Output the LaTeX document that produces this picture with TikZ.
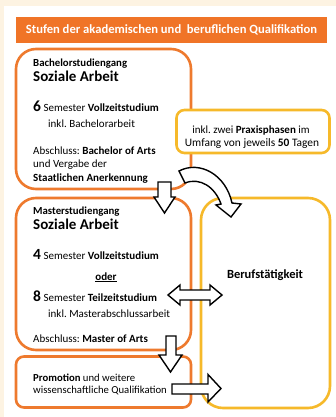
\documentclass[tikz,border=0pt]{standalone}
\usepackage{fontspec}
\setmainfont{Carlito}
\usepackage{xcolor}
\definecolor{cream}{HTML}{FDF3E2}
\definecolor{orng}{HTML}{EE7A2E}
\definecolor{hdr}{HTML}{F07427}
\definecolor{ylw}{HTML}{F6B92A}
\frenchspacing
\begin{document}
\begin{tikzpicture}[x=1pt,y=-1pt,
  obox/.style={draw=orng,line width=2.6pt,fill=white},
  ybox/.style={draw=ylw,line width=2.6pt,fill=white},
  txt/.style={anchor=base west,inner sep=0pt,font=\fontsize{11}{13}\selectfont},
  blk/.style={draw=black,line width=1.4pt,fill=white,line join=miter}]
\useasboundingbox (0,0) rectangle (336,417);
\fill[cream] (0,0) rectangle (336,417);
\fill[white] (4,6) rectangle (336,417);
% header
\node[fill=hdr,minimum width=311pt,minimum height=26pt,inner sep=0pt,text=white,font=\bfseries\fontsize{12.6}{14}\selectfont] (hdr) at (171.5,30) {Stufen der akademischen und\ \ beruflichen Qualifikation};
% boxes
\node[obox,rounded corners=20pt,minimum width=175pt,minimum height=140pt] (ba) at (103.5,119) {};
\node[obox,rounded corners=20pt,minimum width=175pt,minimum height=152pt] (ma) at (103.5,274) {};
\node[obox,rounded corners=8pt,minimum width=175pt,minimum height=51pt] (pr) at (103.5,382) {};
\node[ybox,rounded corners=22pt,minimum width=129pt,minimum height=210pt] (bt) at (265.5,303) {};
\node[ybox,rounded corners=8pt,minimum width=153pt,minimum height=43pt] (px) at (253,131.5) {};
\node[txt,anchor=base] (px1) at (251,133) {inkl. zwei \textbf{Praxisphasen} im};
\node[txt,anchor=base,font=\fontsize{11.4}{13}\selectfont] (px2) at (252,146) {Umfang von jeweils \textbf{50} Tagen};
% bachelor text
\node[txt,font=\bfseries\fontsize{10.8}{12}\selectfont] (t1) at (33,67) {Bachelorstudiengang};
\node[txt,font=\bfseries\fontsize{15}{17}\selectfont] (t2) at (33,82) {Soziale Arbeit};
\node[txt] (t3) at (33,112) {{\bfseries\fontsize{15.5}{15.5}\selectfont 6} Semester \textbf{Vollzeitstudium}};
\node[txt] (t4) at (48,128) {inkl. Bachelorarbeit};
\node[txt] (t5) at (33,154) {Abschluss: \textbf{Bachelor of Arts}};
\node[txt] (t6) at (33,167) {und Vergabe der};
\node[txt] (t7) at (33,181) {\textbf{Staatlichen Anerkennung}};
% master text
\node[txt,font=\bfseries\fontsize{10.8}{12}\selectfont] (m1) at (33,214) {Masterstudiengang};
\node[txt,font=\bfseries\fontsize{15}{17}\selectfont] (m2) at (33,229) {Soziale Arbeit};
\node[txt] (m3) at (33,259) {{\bfseries\fontsize{15.5}{15.5}\selectfont 4} Semester \textbf{Vollzeitstudium}};
\node[anchor=base,inner sep=0pt,font=\bfseries\fontsize{11}{13}\selectfont] (m4) at (106,280) {\underline{oder}};
\node[txt] (m5) at (33,301) {{\bfseries\fontsize{15.5}{15.5}\selectfont 8} Semester \textbf{Teilzeitstudium}};
\node[txt] (m6) at (48,317) {inkl. Masterabschlussarbeit};
\node[txt] (m7) at (33,342) {Abschluss: \textbf{Master of Arts}};
% promotion text
\node[txt,font=\fontsize{10.7}{13}\selectfont] (p1) at (33,381) {\textbf{Promotion} und weitere};
\node[txt,font=\fontsize{10.7}{13}\selectfont] (p2) at (33,393) {wissenschaftliche Qualifikation};
% beruf
\node[inner sep=0pt,font=\bfseries\fontsize{12.5}{14}\selectfont] (b1) at (265,275) {Berufstätigkeit};
% arrows
\draw[blk] (158,182) -- (171,182) -- (171,197) -- (175,197) -- (164.5,213) -- (154,197) -- (158,197) -- cycle;
\draw[blk] (166,336) -- (176,336) -- (176,355) -- (182,355) -- (170.5,372) -- (159,355) -- (166,355) -- cycle;
\draw[blk] (172,384) -- (208,384) -- (208,374.5) -- (221,388.5) -- (208,402) -- (208,394) -- (172,394) -- cycle;
\draw[blk] (168,295) -- (180,285) -- (180,290) -- (210,290) -- (210,285) -- (222,295) -- (210,305) -- (210,300) -- (180,300) -- (180,305) -- cycle;
\draw[blk] (179,171) .. controls (200,160) and (226,175) .. (232,203) -- (241,204) -- (231,217) -- (216,205) -- (221,204) .. controls (215,187) and (200,177) .. (185,183) -- cycle;
\end{tikzpicture}
\end{document}
